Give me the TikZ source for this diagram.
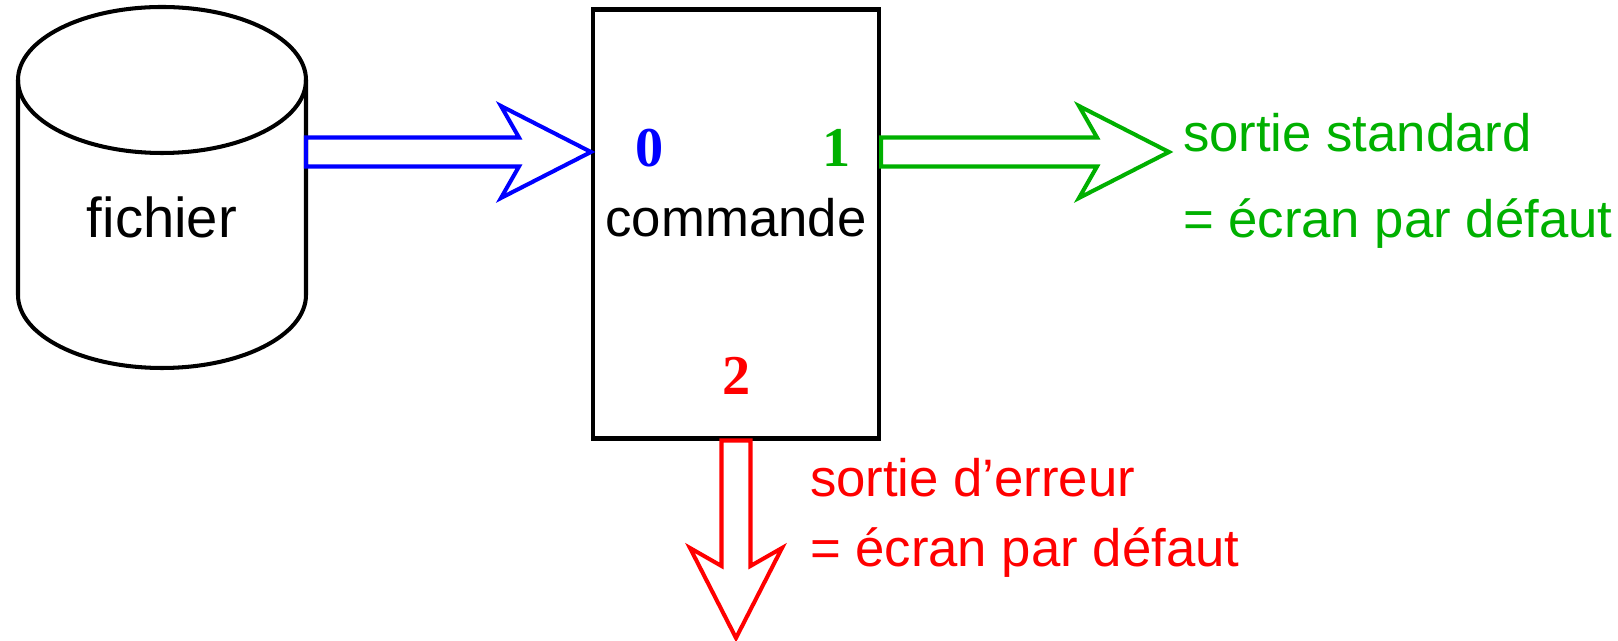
\documentclass[tikz,border=0pt]{standalone}
\usepackage{fontspec}
\setmainfont{Liberation Sans}
\newfontfamily\chiffres{Liberation Serif}
\usetikzlibrary{calc}
\definecolor{vert}{RGB}{0,176,0}

\begin{document}
\begin{tikzpicture}[line width=1.15pt,
  txt/.style={inner sep=0pt, font=\fontsize{15}{18}\selectfont},
  num/.style={inner sep=0pt, anchor=base, font=\fontsize{16}{18}\chiffres\bfseries},
  flux/.style={line join=miter, to path={
    ($(\tikztotarget)!0.72cm!(\tikztostart)$) coordinate (fn)
    ($(\tikztotarget)!0.90cm!(\tikztostart)$) coordinate (fb)
    ($(\tikztostart)!0.145cm!90:(\tikztotarget)$)
    -- ($(fn)!0.145cm!90:(\tikztotarget)$)
    -- ($(fb)!0.46cm!90:(\tikztotarget)$)
    -- (\tikztotarget)
    -- ($(fb)!0.46cm!-90:(\tikztotarget)$)
    -- ($(fn)!0.145cm!-90:(\tikztotarget)$)
    -- ($(\tikztostart)!0.145cm!-90:(\tikztotarget)$) -- cycle}}]
  \useasboundingbox (0,0) rectangle (16.18,6.41);

  % le fichier
  \draw (1.62,5.61) ellipse [x radius=1.44, y radius=0.73];
  \draw (0.18,5.61) -- (0.18,3.46)
    arc [start angle=180, end angle=360, x radius=1.44, y radius=0.73] -- (3.06,5.61);
  \node[txt, font=\fontsize{16}{18}\selectfont, anchor=base] (fichier) at (1.62,4.03) {fichier};

  % la commande et ses descripteurs
  \node[draw, inner sep=0pt, minimum width=2.86cm, minimum height=4.29cm] (cmd) at (7.36,4.17) {};
  \node[txt, anchor=base] (commande) at (7.36,4.04) {commande};
  \node[num, blue] (d0) at (6.50,4.74) {0};
  \node[num, vert] (d1) at (8.37,4.74) {1};
  \node[num, red] (d2) at (7.37,2.46) {2};

  \coordinate (src) at (3.06,4.89);
  \coordinate (entree) at (cmd.west |- src);
  \coordinate (sortie) at (cmd.east |- src);
  \coordinate (ecran) at (11.69,4.89);
  \coordinate (erreur) at (cmd.south);
  \coordinate (ecran2) at (7.36,0.03);

  \draw[blue, flux] (src) to (entree);
  \draw[vert, flux] (sortie) to (ecran);
  \draw[red, flux] (erreur) to (ecran2);

  \node[txt, text=vert, anchor=base west] (std1) at (11.81,4.89) {sortie standard};
  \node[txt, text=vert, anchor=base west] (std2) at (11.81,4.03) {= écran par défaut};
  \node[txt, text=red, anchor=base west] (err1) at (8.08,1.44) {sortie d’erreur};
  \node[txt, text=red, anchor=base west] (err2) at (8.08,0.74) {= écran par défaut};
\end{tikzpicture}
\end{document}
